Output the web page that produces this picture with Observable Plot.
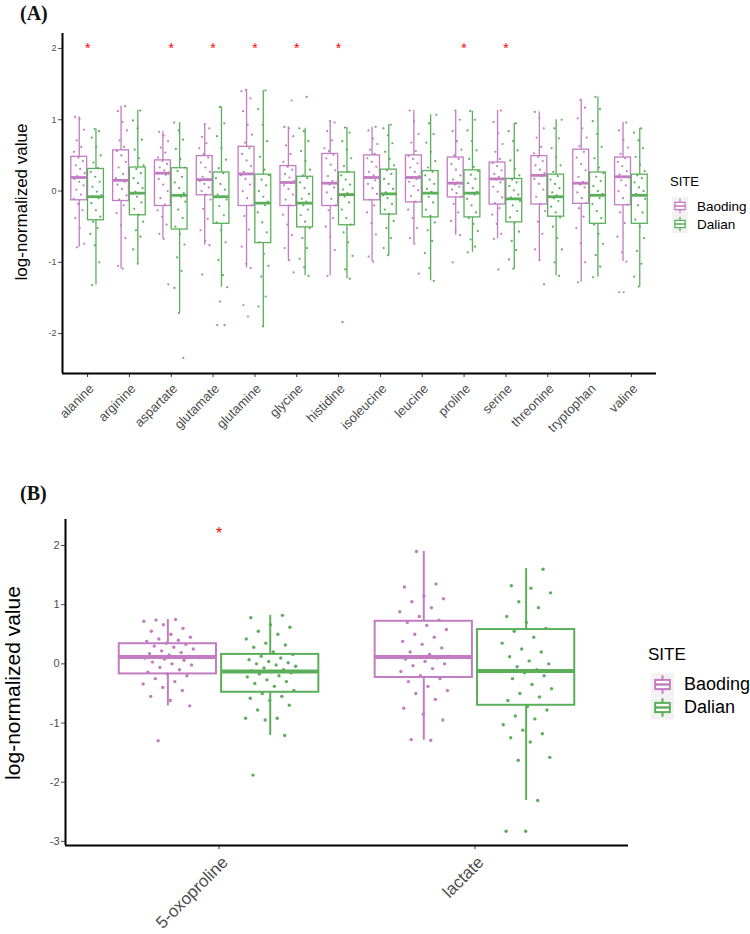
<!DOCTYPE html>
<html>
<head>
<meta charset="utf-8">
<script src="https://cdn.jsdelivr.net/npm/d3@7"></script>
<script src="https://cdn.jsdelivr.net/npm/@observablehq/plot@0.6"></script>
<style>
  body { margin: 0; background: #fff; }
  #page { position: relative; width: 750px; height: 934px; overflow: hidden; font-family: "Liberation Sans", Arial, sans-serif; }
  .abs { position: absolute; white-space: nowrap; }
  .panel-tag { font-family: "Liberation Serif", "Times New Roman", serif; font-weight: bold; font-size: 20px; line-height: 1; color: #111; }
  .ylab { transform: translate(-50%, -50%) rotate(-90deg); color: #000; line-height: 1; }
  .leg-row { display: flex; align-items: center; }
</style>
</head>
<body>
<div id="page">
  <div class="abs panel-tag" style="left:20px; top:3px;">(A)</div>
  <div class="abs panel-tag" style="left:20px; top:483px;">(B)</div>
  <div id="plotA" class="abs" style="left:0; top:0;"></div>
  <div id="plotB" class="abs" style="left:0; top:480px;"></div>
  <div class="abs ylab" style="left:21px; top:202px; font-size:17px;">log-normalized value</div>
  <div class="abs ylab" style="left:12px; top:683px; font-size:21px;">log-normalized value</div>
  <div id="legendA" class="abs" style="left:670px; top:175px;"></div>
  <div id="legendB" class="abs" style="left:648px; top:646px;"></div>
</div>
<script>
// ---------------- DATA ----------------
const sites = ["Baoding", "Dalian"];
const siteColors = ["#C27DC2", "#5BAF5B"];

// Panel A: amino acids
const aminoAcids = ["alanine", "arginine", "aspartate", "glutamate", "glutamine", "glycine", "histidine",
  "isoleucine", "leucine", "proline", "serine", "threonine", "tryptophan", "valine"];
// Box statistics: [lower whisker, Q1, median, Q3, upper whisker]
const baodingBoxA = [
  [-0.79, -0.13, 0.19, 0.48, 1.04],
  [-1.09, -0.14, 0.15, 0.57, 1.19],
  [-0.67, -0.21, 0.25, 0.43, 0.83],
  [-0.76, -0.06, 0.16, 0.49, 0.94],
  [-1.08, -0.21, 0.24, 0.62, 1.42],
  [-0.97, -0.21, 0.12, 0.35, 0.90],
  [-1.19, -0.21, 0.11, 0.52, 0.98],
  [-0.99, -0.13, 0.19, 0.50, 0.90],
  [-0.74, -0.16, 0.19, 0.50, 1.13],
  [-0.62, -0.09, 0.11, 0.47, 1.13],
  [-0.67, -0.19, 0.17, 0.40, 1.13],
  [-0.97, -0.19, 0.22, 0.49, 1.11],
  [-1.28, -0.18, 0.11, 0.58, 1.28],
  [-0.99, -0.20, 0.20, 0.47, 0.96]
];
const dalianBoxA = [
  [-1.32, -0.41, -0.08, 0.31, 0.87],
  [-1.02, -0.34, -0.03, 0.33, 1.13],
  [-1.71, -0.54, -0.06, 0.32, 0.96],
  [-1.35, -0.46, -0.08, 0.26, 1.18],
  [-1.90, -0.73, -0.17, 0.23, 1.41],
  [-1.19, -0.51, -0.17, 0.20, 0.88],
  [-1.23, -0.48, -0.05, 0.26, 0.89],
  [-0.90, -0.33, -0.04, 0.30, 0.93],
  [-1.26, -0.37, -0.03, 0.28, 1.07],
  [-0.86, -0.37, -0.03, 0.29, 1.12],
  [-1.09, -0.44, -0.11, 0.17, 0.95],
  [-1.19, -0.36, -0.08, 0.23, 1.00],
  [-1.21, -0.46, -0.06, 0.26, 1.32],
  [-1.34, -0.46, -0.06, 0.23, 0.88]
];
const baodingPointsA = [
  [-0.79,-0.74,-0.52,-0.38,-0.27,-0.18,-0.11,-0.05,0.02,0.08,0.13,0.17,0.19,0.21,0.25,0.31,0.36,0.42,0.47,0.55,0.62,0.71,0.86,1.01,1.04],
  [-1.09,-1.05,-0.66,-0.48,-0.31,-0.2,-0.12,-0.06,0.03,0.09,0.13,0.15,0.18,0.24,0.33,0.41,0.5,0.56,0.62,0.71,0.85,0.97,1.12,1.19],
  [-1.31,-0.67,-0.6,-0.47,-0.36,-0.27,-0.19,-0.1,0.0,0.09,0.17,0.23,0.25,0.26,0.29,0.33,0.38,0.42,0.47,0.54,0.61,0.7,0.78,0.83],
  [-1.17,-0.76,-0.7,-0.55,-0.39,-0.25,-0.12,-0.05,0.0,0.05,0.1,0.14,0.16,0.2,0.27,0.33,0.4,0.47,0.52,0.6,0.67,0.76,0.88,0.94],
  [-1.76,-1.6,-1.08,-1.02,-0.78,-0.54,-0.35,-0.2,-0.1,0.0,0.09,0.17,0.22,0.24,0.27,0.35,0.43,0.52,0.6,0.68,0.79,0.93,1.12,1.3,1.42,1.4],
  [-1.14,-0.97,-0.8,-0.62,-0.47,-0.33,-0.2,-0.12,-0.05,0.03,0.08,0.11,0.12,0.14,0.19,0.24,0.3,0.34,0.41,0.52,0.64,0.77,0.88,0.9,1.27],
  [-1.19,-0.83,-0.64,-0.5,-0.38,-0.27,-0.2,-0.11,-0.02,0.05,0.09,0.11,0.14,0.21,0.29,0.37,0.46,0.51,0.56,0.6,0.71,0.84,0.96,0.98],
  [-0.99,-0.92,-0.61,-0.45,-0.3,-0.2,-0.12,-0.04,0.04,0.1,0.15,0.18,0.19,0.22,0.27,0.34,0.41,0.46,0.52,0.58,0.66,0.74,0.85,0.9],
  [-1.16,-0.74,-0.66,-0.52,-0.38,-0.26,-0.15,-0.07,0.01,0.07,0.13,0.17,0.19,0.21,0.27,0.33,0.39,0.45,0.49,0.56,0.68,0.8,0.98,1.13],
  [-1.0,-0.62,-0.55,-0.42,-0.3,-0.18,-0.08,-0.03,0.02,0.06,0.09,0.11,0.12,0.16,0.22,0.3,0.38,0.45,0.5,0.58,0.7,0.84,1.0,1.13],
  [-1.1,-0.67,-0.6,-0.46,-0.33,-0.24,-0.17,-0.09,-0.01,0.06,0.12,0.16,0.17,0.2,0.24,0.29,0.35,0.39,0.45,0.55,0.66,0.81,0.97,1.13],
  [-1.31,-0.97,-0.82,-0.6,-0.43,-0.28,-0.18,-0.08,0.02,0.1,0.17,0.21,0.22,0.25,0.3,0.36,0.42,0.48,0.53,0.62,0.75,0.88,1.02,1.11],
  [-1.28,-1.0,-0.73,-0.52,-0.36,-0.24,-0.17,-0.1,-0.02,0.05,0.09,0.11,0.13,0.2,0.29,0.38,0.47,0.55,0.63,0.75,0.88,1.02,1.17,1.28],
  [-1.42,-1.42,-0.99,-0.86,-0.64,-0.45,-0.3,-0.19,-0.1,0.0,0.08,0.15,0.19,0.2,0.23,0.28,0.35,0.41,0.46,0.52,0.61,0.72,0.85,0.96]
];
const dalianPointsA = [
  [-1.32,-1.0,-0.76,-0.6,-0.52,-0.43,-0.36,-0.27,-0.17,-0.1,-0.08,-0.06,-0.01,0.06,0.13,0.2,0.27,0.32,0.4,0.5,0.62,0.75,0.84,0.87],
  [-1.02,-0.82,-0.64,-0.55,-0.43,-0.33,-0.25,-0.16,-0.08,-0.04,-0.03,-0.01,0.04,0.11,0.18,0.25,0.31,0.36,0.46,0.58,0.72,0.88,0.99,1.13],
  [-2.34,-1.71,-1.36,-1.12,-0.93,-0.75,-0.6,-0.5,-0.38,-0.26,-0.15,-0.08,-0.06,-0.03,0.04,0.12,0.2,0.28,0.33,0.45,0.59,0.72,0.85,0.96],
  [-1.88,-1.88,-1.55,-1.35,-1.18,-0.97,-0.72,-0.55,-0.44,-0.34,-0.21,-0.12,-0.08,-0.05,0.02,0.1,0.18,0.25,0.32,0.44,0.6,0.77,0.95,1.18],
  [-1.9,-1.62,-1.48,-1.2,-1.05,-0.88,-0.72,-0.58,-0.44,-0.3,-0.2,-0.17,-0.15,-0.08,0.0,0.08,0.16,0.22,0.3,0.48,0.7,0.93,1.15,1.41],
  [-1.19,-1.07,-0.95,-0.8,-0.66,-0.52,-0.43,-0.34,-0.26,-0.2,-0.17,-0.15,-0.11,-0.04,0.04,0.12,0.18,0.22,0.3,0.42,0.56,0.7,0.84,0.88,1.32],
  [-1.84,-1.23,-1.1,-0.91,-0.72,-0.58,-0.47,-0.38,-0.26,-0.16,-0.08,-0.05,-0.03,0.02,0.09,0.16,0.22,0.27,0.35,0.46,0.58,0.7,0.82,0.89],
  [-0.9,-0.8,-0.66,-0.52,-0.42,-0.32,-0.26,-0.18,-0.1,-0.06,-0.04,-0.02,0.03,0.1,0.17,0.24,0.29,0.36,0.45,0.55,0.67,0.78,0.88,0.93],
  [-1.26,-1.08,-0.87,-0.7,-0.55,-0.44,-0.35,-0.26,-0.16,-0.08,-0.03,-0.01,0.03,0.1,0.16,0.22,0.27,0.33,0.42,0.55,0.68,0.8,0.95,1.07],
  [-0.86,-0.78,-0.68,-0.56,-0.46,-0.38,-0.3,-0.2,-0.11,-0.05,-0.03,-0.01,0.04,0.11,0.17,0.23,0.28,0.34,0.45,0.57,0.7,0.85,1.0,1.12],
  [-1.09,-0.96,-0.83,-0.7,-0.57,-0.45,-0.37,-0.28,-0.2,-0.14,-0.11,-0.09,-0.05,0.01,0.07,0.12,0.16,0.22,0.31,0.43,0.57,0.7,0.84,0.95],
  [-1.19,-1.0,-0.82,-0.66,-0.5,-0.37,-0.3,-0.22,-0.14,-0.1,-0.08,-0.06,-0.02,0.04,0.1,0.16,0.21,0.27,0.36,0.48,0.6,0.74,0.88,1.0],
  [-1.21,-1.06,-0.9,-0.74,-0.6,-0.47,-0.38,-0.28,-0.18,-0.1,-0.06,-0.04,0.0,0.07,0.14,0.2,0.25,0.33,0.46,0.62,0.8,0.98,1.15,1.32],
  [-1.34,-1.2,-1.02,-0.84,-0.66,-0.5,-0.4,-0.3,-0.2,-0.11,-0.06,-0.04,0.0,0.05,0.12,0.18,0.22,0.28,0.37,0.48,0.6,0.71,0.82,0.88]
];
const significantA = ["alanine", "aspartate", "glutamate", "glutamine", "glycine", "histidine", "proline", "serine"];
const starLevelA = 2.0;
const yTicksA = [-2, -1, 0, 1, 2];

// Panel B: other metabolites
const metabolites = ["5-oxoproline", "lactate"];
const baodingBoxB = [
  [-0.71, -0.17, 0.115, 0.34, 0.75],
  [-1.29, -0.23, 0.115, 0.72, 1.90]
];
const dalianBoxB = [
  [-1.21, -0.48, -0.127, 0.16, 0.82],
  [-2.31, -0.70, -0.12, 0.58, 1.61]
];
const baodingPointsB = [
  [-1.3,-0.71,-0.62,-0.55,-0.45,-0.4,-0.34,-0.3,-0.25,-0.2,-0.17,-0.14,-0.1,-0.06,-0.02,0.0,0.03,0.06,0.08,0.1,0.11,0.12,0.13,0.15,0.17,0.19,0.22,0.25,0.28,0.3,0.33,0.35,0.38,0.4,0.42,0.45,0.5,0.55,0.6,0.66,0.72,0.75,0.74],
  [-1.29,-1.28,-0.95,-0.85,-0.75,-0.6,-0.5,-0.45,-0.38,-0.3,-0.25,-0.2,-0.13,-0.08,-0.03,0.0,0.04,0.08,0.1,0.11,0.13,0.16,0.2,0.27,0.33,0.38,0.45,0.5,0.58,0.65,0.7,0.74,0.8,0.88,0.95,1.05,1.1,1.15,1.3,1.35,1.9]
];
const dalianPointsB = [
  [-1.88,-1.21,-0.95,-0.92,-0.92,-0.78,-0.7,-0.62,-0.58,-0.55,-0.5,-0.45,-0.38,-0.33,-0.3,-0.27,-0.22,-0.2,-0.17,-0.15,-0.13,-0.12,-0.1,-0.07,-0.04,-0.02,0.0,0.02,0.04,0.07,0.1,0.13,0.16,0.2,0.28,0.32,0.35,0.42,0.5,0.55,0.62,0.66,0.78,0.82],
  [-2.83,-2.83,-2.31,-1.63,-1.58,-1.32,-1.25,-1.18,-1.12,-1.03,-0.93,-0.88,-0.78,-0.72,-0.62,-0.56,-0.5,-0.42,-0.35,-0.25,-0.2,-0.15,-0.12,-0.1,-0.05,0.0,0.05,0.12,0.2,0.25,0.35,0.45,0.55,0.6,0.7,0.8,0.95,1.05,1.2,1.28,1.32,1.6]
];
const significantB = ["5-oxoproline"];
const starLevelB = 2.2;
const yTicksB = [-3, -2, -1, 0, 1, 2];

// ---------------- BUILD ----------------
const dodge = 0.2, halfBox = 0.19;
function jitter(j, hw) { return (((j * 0.6180339887 + 0.31) % 1) - 0.5) * 2 * hw; }

function buildTables(cats, boxesBySite, pointsBySite, jw) {
  const boxes = [], points = [];
  sites.forEach((s, si) => {
    const off = si === 0 ? -dodge : dodge;
    cats.forEach((c, i) => {
      const [lo, q1, med, q3, hi] = boxesBySite[si][i];
      boxes.push({site: s, x: i + off, lo, q1, med, q3, hi});
      pointsBySite[si][i].forEach((v, j) => points.push({site: s, x: i + off + jitter(j + i * 7 + si * 3, jw), v}));
    });
  });
  return {boxes, points};
}

function makePlot(cfg) {
  const {cats, boxes, points, yDomain, yTicks, stars, starLevel, dims, sty} = cfg;
  const xDomain = [-0.6, cats.length - 1 + 0.6];
  return Plot.plot({
    width: 750, height: dims.height,
    marginLeft: dims.left, marginRight: dims.right, marginTop: dims.top, marginBottom: dims.bottom,
    style: {fontFamily: '"Liberation Sans", Arial, sans-serif', background: "transparent", overflow: "visible"},
    x: {domain: xDomain, axis: null},
    y: {domain: yDomain, axis: null},
    color: {domain: sites, range: siteColors},
    marks: [
      Plot.dot(points, {x: "x", y: "v", r: sty.r, fill: "site", stroke: null}),
      Plot.ruleX(boxes, {x: "x", y1: "lo", y2: "q1", stroke: "site", strokeWidth: sty.sw}),
      Plot.ruleX(boxes, {x: "x", y1: "q3", y2: "hi", stroke: "site", strokeWidth: sty.sw}),
      Plot.rect(boxes, {x1: d => d.x - halfBox, x2: d => d.x + halfBox, y1: "q1", y2: "q3", stroke: "site", fill: "none", strokeWidth: sty.sw}),
      Plot.ruleY(boxes, {y: "med", x1: d => d.x - halfBox, x2: d => d.x + halfBox, stroke: "site", strokeWidth: sty.mw}),
      Plot.text(stars, {x: d => cats.indexOf(d), y: () => starLevel, text: () => "*", fill: "#ff0000", fontSize: sty.star}),
      Plot.axisY({ticks: yTicks, tickFormat: d => `${d}`, tickSize: 4, tickPadding: 2, fontSize: sty.yfs, color: "#4d4d4d", label: null}),
      Plot.axisX({ticks: d3.range(cats.length), tickFormat: () => "", tickSize: 4, color: "#333", label: null}),
      Plot.text(cats, {x: (d, i) => i, y: () => yDomain[0], text: d => d, rotate: -45, textAnchor: "end",
        dx: sty.ldx, dy: sty.ldy, fontSize: sty.xfs, fill: "#4d4d4d"}),
      Plot.ruleX([xDomain[0]], {stroke: "#000", strokeWidth: 2}),
      Plot.ruleY([yDomain[0]], {stroke: "#000", strokeWidth: 2})
    ]
  });
}

const A = buildTables(aminoAcids, [baodingBoxA, dalianBoxA], [baodingPointsA, dalianPointsA], 0.14);
document.getElementById("plotA").append(makePlot({
  cats: aminoAcids, boxes: A.boxes, points: A.points, yDomain: [-2.56, 2.21], yTicks: yTicksA,
  stars: significantA, starLevel: starLevelA,
  dims: {height: 470, left: 62, right: 94, top: 33, bottom: 97},
  sty: {r: 1.1, sw: 1.3, mw: 2.8, star: 14, yfs: 9, xfs: 13, ldx: 4, ldy: 13}
}));

const B = buildTables(metabolites, [baodingBoxB, dalianBoxB], [baodingPointsB, dalianPointsB], 0.1);
document.getElementById("plotB").append(makePlot({
  cats: metabolites, boxes: B.boxes, points: B.points, yDomain: [-3.07, 2.44], yTicks: yTicksB,
  stars: significantB, starLevel: starLevelB,
  dims: {height: 454, left: 65, right: 122, top: 39, bottom: 89},
  sty: {r: 1.7, sw: 2, mw: 4, star: 16, yfs: 11, xfs: 17, ldx: 6, ldy: 14}
}));

// ---------------- LEGENDS ----------------
function keySvg(color, w, h, sw, mw) {
  const cx = w / 2, bx = w * 0.18, bw = w * 0.64, by = h * 0.3, bh = h * 0.4;
  return `<svg width="${w}" height="${h}" style="display:block">
    <rect x="0" y="0" width="${w}" height="${h}" fill="#f2f2f2"/>
    <line x1="${cx}" x2="${cx}" y1="${h * 0.1}" y2="${h * 0.9}" stroke="${color}" stroke-width="${sw}"/>
    <rect x="${bx}" y="${by}" width="${bw}" height="${bh}" fill="#fff" stroke="${color}" stroke-width="${sw}"/>
    <line x1="${bx}" x2="${bx + bw}" y1="${h / 2}" y2="${h / 2}" stroke="${color}" stroke-width="${mw}"/>
  </svg>`;
}
function legend(el, o) {
  let html = `<div style="font-size:${o.tfs}px; line-height:1; margin-bottom:${o.gap}px; color:#000;">SITE</div>`;
  sites.forEach((s, i) => {
    html += `<div class="leg-row" style="margin-left:${o.kx}px; height:${o.kh}px;">${keySvg(siteColors[i], o.kw, o.kh, o.sw, o.mw)}
      <span style="font-size:${o.fs}px; margin-left:${o.tx}px; color:#000;">${s}</span></div>`;
  });
  el.innerHTML = html;
}
legend(document.getElementById("legendA"), {tfs: 13, gap: 9, kx: 2, kw: 16, kh: 18, sw: 1.3, mw: 1.6, fs: 13.5, tx: 9});
legend(document.getElementById("legendB"), {tfs: 17, gap: 10, kx: 3, kw: 23, kh: 23, sw: 2, mw: 2.4, fs: 18, tx: 10});
</script>
</body>
</html>
